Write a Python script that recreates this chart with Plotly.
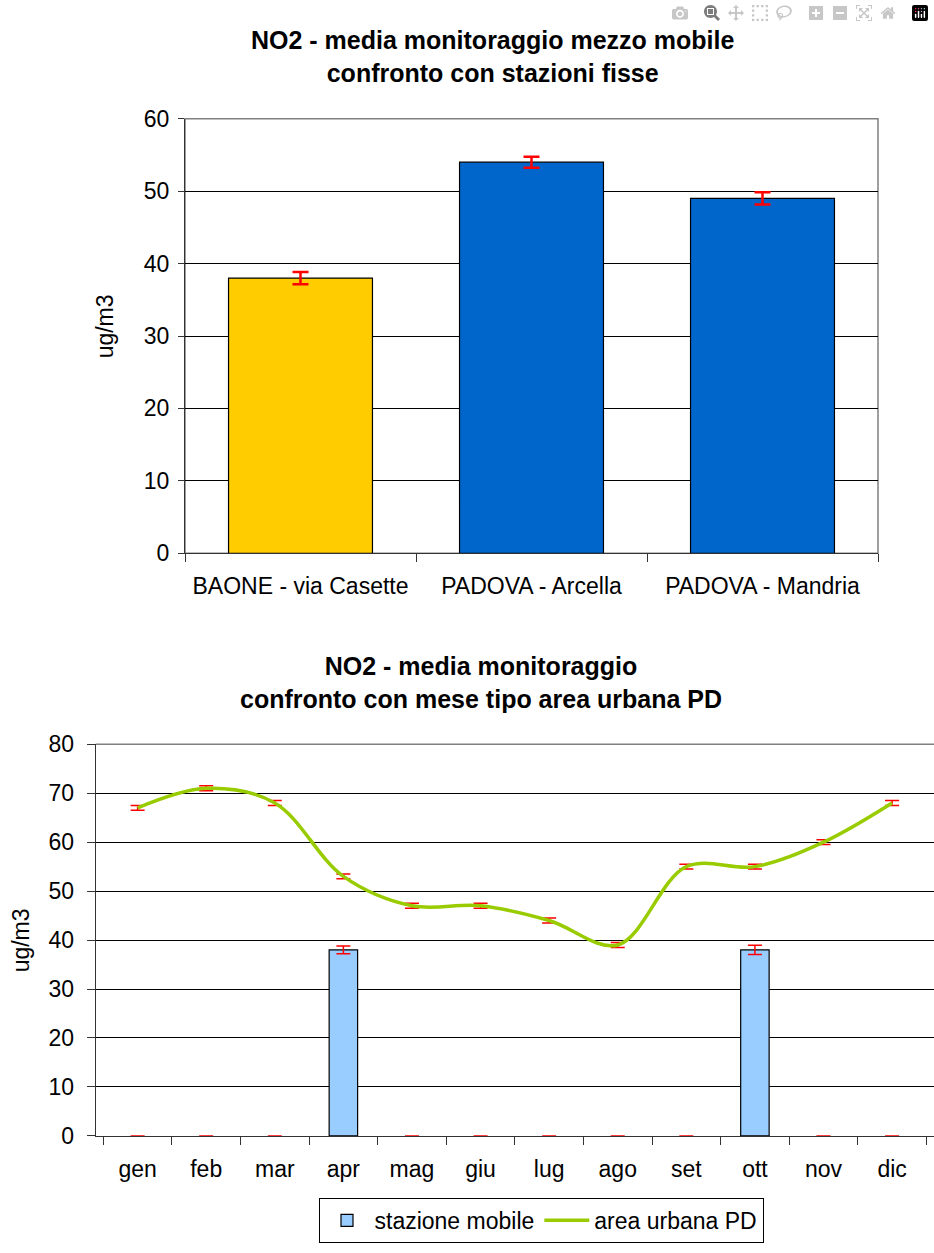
import plotly.graph_objects as go

# ---- Data: top chart ----
stations = ["BAONE - via Casette", "PADOVA - Arcella", "PADOVA - Mandria"]
station_values = [38, 54, 49]
station_errors = [0.85, 0.75, 0.85]
station_colors = ["#FFCC00", "#0066CC", "#0066CC"]

# ---- Data: bottom chart ----
months = ["gen", "feb", "mar", "apr", "mag", "giu", "lug", "ago", "set", "ott", "nov", "dic"]
mobile_values = [0, 0, 0, 38, 0, 0, 0, 0, 0, 38, 0, 0]
mobile_errors = [0, 0, 0, 0.8, 0, 0, 0, 0, 0, 0.95, 0, 0]
urban_values = [67, 71, 68, 53, 47, 47, 44, 39, 55, 55, 60, 68]
urban_errors = [0.5] * 12

FONT = "Liberation Sans, Arial, sans-serif"
W, H = 934, 1253

def px_x(p):
    return p / W

def px_y(p):
    return 1 - p / H

fig = go.Figure()

fig.add_trace(go.Bar(
    x=stations, y=station_values,
    marker=dict(color=station_colors, line=dict(color="#000000", width=1.2)),
    error_y=dict(type="data", array=station_errors, color="#FF0000", thickness=2.5, width=8),
    showlegend=False, xaxis="x", yaxis="y",
))

# list measured bars first so the legend swatch takes an outlined bar's style;
# the x axis keeps the calendar order through categoryarray
order = sorted(range(len(months)), key=lambda i: mobile_values[i] == 0)
mob_x = [months[i] for i in order]
mob_y = [mobile_values[i] for i in order]
mob_e = [mobile_errors[i] for i in order]
mob_lw = [1.2 if v > 0 else 0 for v in mob_y]

fig.add_trace(go.Bar(
    x=mob_x, y=mob_y, name="stazione mobile", width=0.415,
    marker=dict(color="#99CCFF", line=dict(color="#000000", width=mob_lw)),
    error_y=dict(type="data", array=mob_e, color="#FF0000", thickness=1.5, width=7),
    xaxis="x2", yaxis="y2",
))

fig.add_trace(go.Scatter(
    x=months, y=urban_values, name="area urbana PD", mode="lines",
    line=dict(color="#99CC00", width=3.5, shape="spline", smoothing=1.0),
    error_y=dict(type="data", array=urban_errors, color="#FF0000", thickness=1.5, width=7),
    xaxis="x2", yaxis="y2",
))

tickfont = dict(family=FONT, size=23, color="#000000")

fig.update_layout(
    width=W, height=H,
    margin=dict(l=0, r=0, t=0, b=0),
    paper_bgcolor="#FFFFFF", plot_bgcolor="#FFFFFF",
    font=dict(family=FONT, size=23, color="#000000"),
    bargap=0.377,
    xaxis=dict(
        domain=[px_x(185), px_x(878)], anchor="y",
        type="category", showgrid=False, tickson="boundaries",
        ticks="outside", ticklen=8, tickcolor="#333333",
        showline=True, linecolor="#333333", linewidth=1,
        tickfont=tickfont, ticklabelstandoff=12,
    ),
    yaxis=dict(
        domain=[px_y(551.7), px_y(108)], anchor="x",
        range=[0, 60], dtick=10, showgrid=True, gridcolor="#000000", gridwidth=1,
        ticks="outside", ticklen=6, tickcolor="#333333",
        showline=True, linecolor="#333333", linewidth=1,
        tickfont=tickfont, ticklabelstandoff=4, zeroline=False,
    ),
    xaxis2=dict(
        domain=[px_x(95.7), 1.0], anchor="y2",
        type="category", categoryorder="array", categoryarray=months,
        showgrid=False, tickson="boundaries",
        ticks="outside", ticklen=8, tickcolor="#333333",
        showline=True, linecolor="#333333", linewidth=1,
        tickfont=tickfont, ticklabelstandoff=12,
    ),
    yaxis2=dict(
        domain=[px_y(1146.7), px_y(746.7)], anchor="x2",
        range=[0, 80], dtick=10, showgrid=True, gridcolor="#000000", gridwidth=1,
        ticks="outside", ticklen=8, tickcolor="#333333",
        showline=True, linecolor="#333333", linewidth=1,
        tickfont=tickfont, ticklabelstandoff=8, zeroline=False,
    ),
    legend=dict(
        orientation="h", x=px_x(541), y=px_y(1233), xanchor="center", yanchor="middle",
        bordercolor="#000000", borderwidth=1, bgcolor="#FFFFFF",
        font=dict(family=FONT, size=23, color="#000000"),
        itemwidth=45,
    ),
    shapes=[
        dict(type="rect", xref="x domain", yref="y domain", x0=0, x1=1, y0=0, y1=1,
             line=dict(color="#808080", width=1.5), layer="below"),
        dict(type="line", xref="x2 domain", yref="y2 domain", x0=0, x1=1, y0=1, y1=1,
             line=dict(color="#808080", width=1.5), layer="below"),
    ],
    annotations=[
        dict(text="<b>NO2 - media monitoraggio mezzo mobile<br>confronto con stazioni fisse</b>",
             x=px_x(492), y=px_y(44), xref="paper", yref="paper", showarrow=False,
             xanchor="center", yanchor="middle", font=dict(family=FONT, size=25, color="#000000")),
        dict(text="<b>NO2 - media monitoraggio<br>confronto con mese tipo area urbana PD</b>",
             x=px_x(481), y=px_y(684), xref="paper", yref="paper", showarrow=False,
             xanchor="center", yanchor="middle", font=dict(family=FONT, size=25, color="#000000")),
        dict(text="ug/m3", textangle=-90, x=px_x(105), y=px_y(320), xref="paper", yref="paper",
             showarrow=False, xanchor="center", yanchor="middle", font=dict(family=FONT, size=23)),
        dict(text="ug/m3", textangle=-90, x=px_x(21), y=px_y(947), xref="paper", yref="paper",
             showarrow=False, xanchor="center", yanchor="middle", font=dict(family=FONT, size=23)),
    ],
)

fig.write_html("out.html", post_script="document.body.style.margin='0';")
